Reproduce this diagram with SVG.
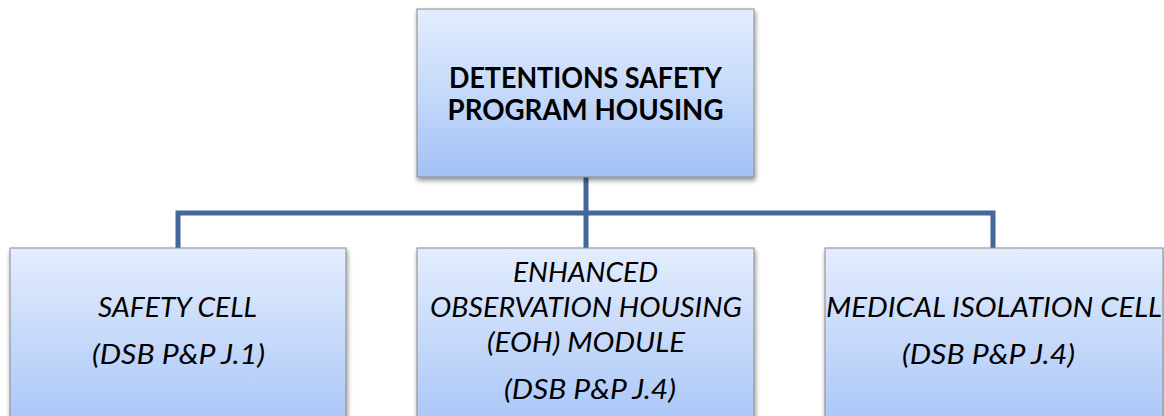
<svg xmlns="http://www.w3.org/2000/svg" width="1164" height="416" viewBox="0 0 1164 416">
<defs>
<linearGradient id="g" x1="0" y1="0" x2="0" y2="1">
<stop offset="0" stop-color="#e3edfd"/>
<stop offset="0.5" stop-color="#c5d9fa"/>
<stop offset="1" stop-color="#a3c1f6"/>
</linearGradient>
<linearGradient id="g2" x1="0" y1="0" x2="0" y2="1">
<stop offset="0" stop-color="#e3edfd"/>
<stop offset="1" stop-color="#a9c5f7"/>
</linearGradient>
<filter id="sh" x="-5%" y="-5%" width="112%" height="115%">
<feGaussianBlur in="SourceAlpha" stdDeviation="2.5"/>
<feOffset dx="1" dy="3"/>
<feComponentTransfer><feFuncA type="linear" slope="0.45"/></feComponentTransfer>
<feMerge><feMergeNode/><feMergeNode in="SourceGraphic"/></feMerge>
</filter>
</defs>
<style>
.box{stroke:#8a8a8a;stroke-width:1;filter:url(#sh)}
.t{font-family:Lato,"Open Sans",sans-serif;fill:#000;text-anchor:middle}
.b{font-weight:bold;font-size:28px}
.i{font-style:italic;font-size:27px}
.c{fill:none;stroke:#44689a;stroke-width:5}
</style>
<rect width="1164" height="416" fill="#fff"/>
<g id="connectors">
<path class="c" d="M586 177 V213 M178 248 V213 H993 V248 M586 213 V248"/>
</g>
<g id="top">
<rect class="box" x="417" y="9" width="337" height="168" fill="url(#g)"/>
<text class="t b" x="585.5" y="88" textLength="273" lengthAdjust="spacingAndGlyphs">DETENTIONS SAFETY</text>
<text class="t b" x="585.5" y="120" textLength="276" lengthAdjust="spacingAndGlyphs">PROGRAM HOUSING</text>
</g>
<g id="safety">
<rect class="box" x="10" y="248" width="336" height="180" fill="url(#g2)"/>
<text class="t i" x="177.5" y="317" textLength="159" lengthAdjust="spacingAndGlyphs">SAFETY CELL</text>
<text class="t i" x="178.5" y="364" textLength="173" lengthAdjust="spacingAndGlyphs">(DSB P&amp;P J.1)</text>
</g>
<g id="eoh">
<rect class="box" x="417" y="248" width="337" height="180" fill="url(#g2)"/>
<text class="t i" x="585.5" y="282" textLength="145" lengthAdjust="spacingAndGlyphs">ENHANCED</text>
<text class="t i" x="586" y="317" textLength="312" lengthAdjust="spacingAndGlyphs">OBSERVATION HOUSING</text>
<text class="t i" x="586" y="352" textLength="198" lengthAdjust="spacingAndGlyphs">(EOH) MODULE</text>
<text class="t i" x="590" y="399" textLength="172" lengthAdjust="spacingAndGlyphs">(DSB P&amp;P J.4)</text>
</g>
<g id="medical">
<rect class="box" x="825" y="248" width="338" height="180" fill="url(#g2)"/>
<text class="t i" x="994" y="317" textLength="336" lengthAdjust="spacingAndGlyphs">MEDICAL ISOLATION CELL</text>
<text class="t i" x="988.5" y="364" textLength="173" lengthAdjust="spacingAndGlyphs">(DSB P&amp;P J.4)</text>
</g>
</svg>
